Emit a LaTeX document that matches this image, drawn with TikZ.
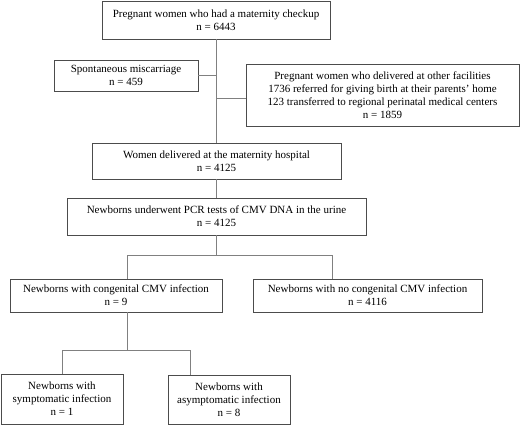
\documentclass[tikz,border=0pt]{standalone}
\usepackage{fontspec}
\setmainfont{Liberation Serif}
\usetikzlibrary{calc}

\begin{document}
\begin{tikzpicture}[
  x=1pt, y=-1pt,
  font=\fontsize{11}{13}\selectfont,
  box/.style={draw=black!70, line width=0.8pt, align=center, inner sep=2pt},
  link/.style={draw=black!50, line width=0.8pt}
]
\useasboundingbox (0,0) rectangle (520,426);
% boxes
\node[box, minimum width=228pt, minimum height=38pt] (check) at (216,20) {Pregnant women who had a maternity checkup\\n = 6443};
\node[box, minimum width=144pt, minimum height=31pt] (misc) at (126,75.5) {Spontaneous miscarriage\\n = 459};
\node[box, minimum width=273pt, minimum height=62pt] (other) at (382.5,95) {Pregnant women who delivered at other facilities\\1736 referred for giving birth at their parents' home\\123 transferred to regional perinatal medical centers\\n = 1859};
\node[box, minimum width=249pt, minimum height=36pt] (hosp) at (216.5,161) {Women delivered at the maternity hospital\\n = 4125};
\node[box, minimum width=299pt, minimum height=37pt] (pcr) at (216.5,216.5) {Newborns underwent PCR tests of CMV DNA in the urine\\n = 4125};
\node[box, minimum width=212pt, minimum height=33pt] (cong) at (116,295.5) {Newborns with congenital CMV infection\\n = 9};
\node[box, minimum width=229pt, minimum height=33pt] (nocong) at (367.5,295.5) {Newborns with no congenital CMV infection\\n = 4116};
\node[box, minimum width=122pt, minimum height=50pt] (sym) at (62,399) {Newborns with\\symptomatic infection\\n = 1};
\node[box, minimum width=122pt, minimum height=49pt] (asym) at (229,399.5) {Newborns with\\asymptomatic infection\\n = 8};

% junctions
\coordinate (j1) at (216,75);
\coordinate (j2) at (216,98);
\coordinate (sl) at (127,255);
\coordinate (sr) at (332,255);
\coordinate (tl) at (62,350);
\coordinate (tr) at (190,350);

% connectors
\draw[link] (check.south -| j1) -- (hosp.north -| j1);
\draw[link] (misc.east |- j1) -- (j1);
\draw[link] (j2) -- (j2 -| other.west);
\draw[link] (hosp.south -| j1) -- (pcr.north -| j1);
\draw[link] (pcr.south -| j1) -- (j1 |- sl);
\draw[link] (sl |- cong.north) -- (sl) -- (sr) -- (sr |- nocong.north);
\draw[link] (cong.south -| sl) -- (sl |- tl);
\draw[link] (tl |- sym.north) -- (tl) -- (tr) -- (tr |- asym.north);
\end{tikzpicture}
\end{document}
